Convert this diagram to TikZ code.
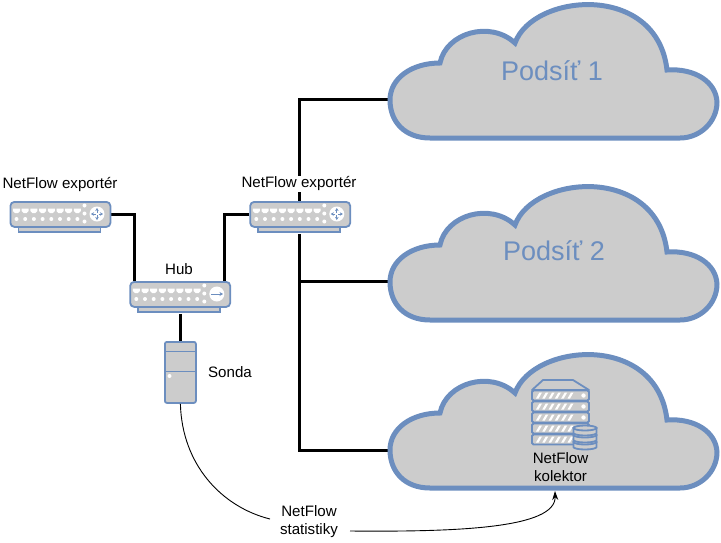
\documentclass[tikz,border=0pt]{standalone}
\usepackage{fontspec}
\setmainfont{Liberation Sans}
\usetikzlibrary{arrows.meta,backgrounds}
\definecolor{bl}{HTML}{6C8EBF}
\definecolor{gr}{HTML}{CCCCCC}
\tikzset{
  lbl/.style={font=\fontsize{15.1}{18}\selectfont,text=black,inner sep=1pt,align=center},
  lblw/.style={lbl,fill=white},
  wire/.style={line width=3pt,black,line cap=butt},
  thin curve/.style={line width=.9pt,black},
  cloudshape/.style={line width=5pt,draw=bl,fill=gr,miter limit=10},
  dev/.style={draw=bl,fill=gr,line width=1.8pt},
  devbody/.style={dev,rounded corners=4pt,minimum width=100pt,minimum height=25pt,inner sep=0pt,anchor=north west},
  subnet/.style={font=\fontsize{27}{30}\selectfont,text=bl,inner sep=0pt},
}
\newcommand{\cloudpath}[1]{%
  \begin{scope}[yshift=-#1pt]
  \filldraw[cloudshape] (440,63) .. controls (446,33) and (490,20) .. (515,43)
    .. controls (533,-7) and (657,-18) .. (667,70)
    .. controls (695,68) and (716,82) .. (717,102)
    .. controls (717,122) and (700,138) .. (680,138)
    -- (430,138)
    .. controls (405,138) and (390,122) .. (390,100)
    .. controls (390,78) and (412,63) .. (440,63) -- cycle;
  \end{scope}}
% name, x, y (top-left of body)
\newcommand{\netdev}[3]{%
  \begin{scope}[shift={(#2,#3)}]
  \draw[dev] (9,25) rectangle (91,31);
  \node[devbody] (#1) at (0,0) {};
  \foreach \i in {0,...,7}{
    \fill[white] (3.5+8.7*\i,7.5) -- (10.5+8.7*\i,7.5) -- (10.5+8.7*\i,10) -- (8.5+8.7*\i,12) -- (5.5+8.7*\i,12) -- (3.5+8.7*\i,10) -- cycle;
    \fill[white] (7+8.7*\i,18) circle (2);
  }
  \foreach \yy in {4.5,12.5,20.5}{\fill[white] (75,\yy) circle (2);}
  \fill[white] (87.5,13) circle (7.5);
  \end{scope}}
\newcommand{\routericon}[2]{%
  \begin{scope}[shift={(#1,#2)},bl,line width=.8pt,-{Stealth[length=3pt,width=3.5pt]}]
  \draw (0,-1) -- (0,-6); \draw (0,1) -- (0,6);
  \draw (-1.5,0) -- (-6,0); \draw (1.5,0) -- (6,0);
  \end{scope}}
\begin{document}
\begin{tikzpicture}[x=1pt,y=-1pt]
\useasboundingbox (0,0) rectangle (721,542);
% clouds
\cloudpath{0}
\cloudpath{182}
\cloudpath{350}
\coordinate (cloudA) at (390,99);
\coordinate (cloudB) at (390,281);
\coordinate (cloudC) at (390,450.5);
\node[subnet] (sub1) at (552,71) {Podsíť 1};
\node[subnet] (sub2) at (554,251) {Podsíť 2};
% devices
\netdev{exA}{9.5}{201}
\routericon{97}{214}
\netdev{exB}{249.3}{201}
\routericon{336.8}{214}
\netdev{hub}{129.3}{281}
\draw[bl,line width=.8pt,-{Stealth[length=3.5pt,width=4pt]}] (211,294) -- (223,294);
% sonda
\node[dev,rounded corners=2pt,minimum width=31pt,minimum height=61pt,inner sep=0pt,anchor=north west] (sonda) at (164,341) {};
\draw[bl,line width=1.8pt] (164,351.5) -- (195,351.5) (164,371.5) -- (195,371.5);
\fill[white] (169.5,376) circle (2);
% collector
\begin{scope}[bl]
\draw[dev,line join=round] (532,390) -- (543,380) -- (573,380) -- (589,390) -- cycle;
\foreach \yy in {390.5,401.5,412.5,423.5,434.5}{
  \draw[dev,rounded corners=1.5pt] (532,\yy) rectangle (589,\yy+10);
  \foreach \i in {0,...,5}{
    \fill[white] (536+6.3*\i,\yy+8) -- (539.5+6.3*\i,\yy+2) -- (542+6.3*\i,\yy+2) -- (538.5+6.3*\i,\yy+8) -- cycle;
  }
  \fill[white] (583.5,\yy+5) circle (2.2);
}
\foreach \yy in {442,435,428}{
  \filldraw[dev] (573.5,\yy) -- (573.5,\yy+5) arc[start angle=180,end angle=360,x radius=11.5,y radius=-2.5] -- (596.5,\yy) -- cycle;
  \filldraw[dev] (585,\yy) ellipse (11.5 and 2.5);
}
\end{scope}
\node[lbl] (coll) at (560.5,467) {NetFlow\\kolektor};
\coordinate (collIn) at (555,491);
% labels
\node[lblw] (lexA) at (60,185) {NetFlow exportér};
\node[lblw] (lexB) at (299,184) {NetFlow exportér};
\node[lbl] (lhub) at (179,269) {Hub};
\node[lbl] (lsonda) at (230,372) {Sonda};
\node[lbl] (stat) at (309,522) {NetFlow\\statistiky};
\coordinate (statIn) at (270,519);
\coordinate (statOut) at (350,531);
% connectors
\begin{pgfonlayer}{background}
\coordinate (j1) at (299,99);
\coordinate (j2) at (299,281);
\coordinate (j3) at (299,450.5);
\draw[wire] (exA.east) -| (134,281);
\draw[wire] (exB.west) -| (224,281);
\draw[wire] (hub.south -| sonda.north) ++(0,6) -- (sonda.north);
\draw[wire] (exB.north -| j1) -- (j1) -- (cloudA);
\draw[wire] (exB.south -| j1) ++(0,6) -- (j3) -- (cloudC);
\draw[wire] (j2) -- (cloudB);
\end{pgfonlayer}
\draw[thin curve] (sonda.south) .. controls (182,465) and (222,507) .. (statIn);
\draw[thin curve,-{Stealth[length=9pt,width=6pt]}] (statOut) .. controls (460,532) and (556,528) .. (collIn);
\end{tikzpicture}
\end{document}
